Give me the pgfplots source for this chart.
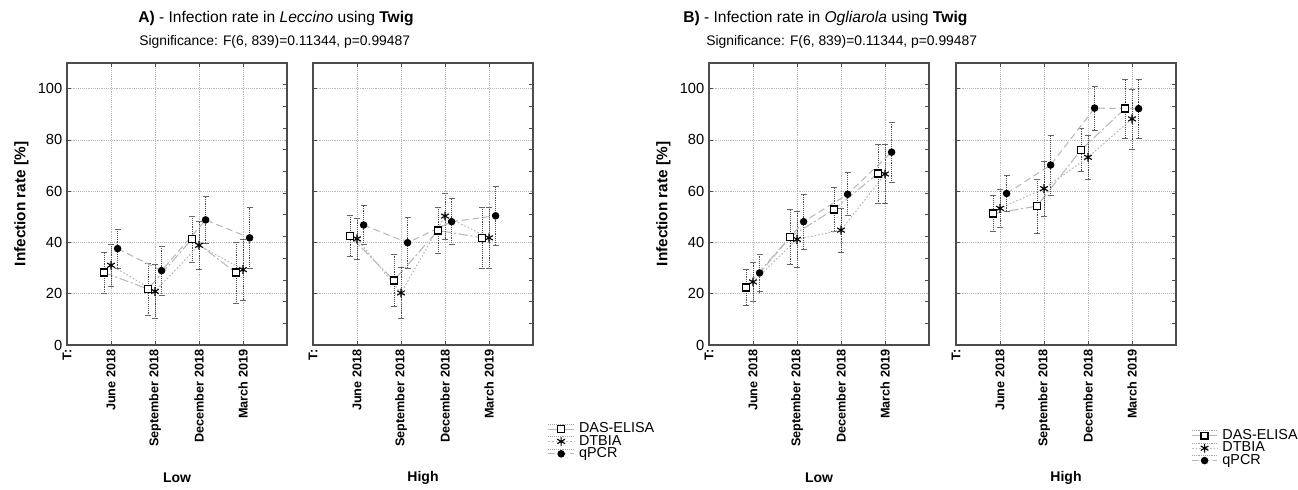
\documentclass[border=0pt]{standalone}
\usepackage{fontspec}
\setmainfont{Liberation Sans}
\usepackage{pgfplots}
\pgfplotsset{compat=1.18}

\pgfplotsset{
 panel/.style={
   scale only axis, width=165pt, height=211.5pt,
   xmin=0, xmax=5, ymin=0, ymax=110,
   xtick={0,1,2,3,4},
   xticklabels={T:, June 2018, September 2018, December 2018, March 2019},
   x tick label style={rotate=90, anchor=east, font=\bfseries\fontsize{9.5}{11}\selectfont},
   ytick={0,20,40,60,80,100},
   ytick pos=left,
   tick align=inside,
   major tick length=3pt,
   tick style={black!70, line width=0.6pt},
   xmajorgrids, ymajorgrids,
   grid style={densely dotted, gray!55, line width=0.5pt},
   axis line style={black!70, line width=1pt},
   y tick label style={font=\fontsize{11}{13}\selectfont},
   /pgf/number format/assume math mode=true,
   ylabel style={font=\bfseries\fontsize{11.5}{13}\selectfont},
   xlabel style={at={(rel axis cs:0.5,0)}, anchor=center, yshift=-99.75pt, font=\bfseries\fontsize{10.5}{12}\selectfont},
   clip=false,
 },
 rticks/.style={
   scale only axis, width=165pt, height=211.5pt,
   xmin=0, xmax=5, ymin=0, ymax=110,
   axis y line*=right, axis x line=none,
   ytick={8.4615,16.9231,25.3846,33.8462,42.3077,50.7692,59.2308,67.6923,76.1538,84.6154,93.0769,101.5385},
   yticklabels={},
   tick align=inside, major tick length=3pt,
   tick style={black!70, line width=0.6pt},
   axis line style={black!70, line width=1pt},
 },
 ebar/.style={
   /pgfplots/error bars/y dir=both,
   /pgfplots/error bars/y explicit,
   /pgfplots/error bars/error bar style={black!70, densely dotted, line width=0.65pt},
   /pgfplots/error bars/error mark options={rotate=90, black!60, mark size=2.2pt, line width=0.5pt, solid},
 },
 dasL/.style={gray!55, line width=0.8pt, dash pattern=on 7pt off 2pt on 1.5pt off 2pt, mark=square*, mark size=2.6pt, mark options={solid, fill=white, draw=black, line width=1.2pt}},
 dtbL/.style={gray!55, line width=0.8pt, dash pattern=on 1.2pt off 1.5pt, mark=asterisk, mark size=3.3pt, mark options={solid, draw=black, line width=0.85pt}},
 qpcL/.style={gray!55, line width=0.8pt, dash pattern=on 5pt off 3pt, mark=*, mark size=2.4pt, mark options={solid, fill=black, draw=black}},
 das/.style={dasL, ebar},
 dtb/.style={dtbL, ebar},
 qpc/.style={qpcL, ebar},
 mylegend/.style={
   legend style={draw=none, fill=none, inner sep=0pt, outer sep=0pt, font=\fontsize{10.8}{12}\selectfont,
     nodes={inner sep=0pt, text height=7.4pt, text depth=1.9pt, anchor=west},
     column sep=3.5pt, row sep=0pt},
   legend cell align=left,
   legend image code/.code={
     \draw[densely dotted, gray!70, line width=0.4pt] (0pt,3.8pt) -- (19pt,3.8pt);
     \draw[mark repeat=2, mark phase=2, ##1] plot coordinates {(0pt,0pt) (9.5pt,0pt) (19pt,0pt)};
   },
 },
}

\begin{document}
\begin{tikzpicture}
\path[use as bounding box] (0pt,0pt) rectangle (973.5pt,366.75pt);

% titles
\node[anchor=base west, inner sep=0pt] at (103.5pt,349.9pt) {\fontsize{11.7}{14}\selectfont\textbf{A)} - Infection rate in \textit{Leccino} using \textbf{Twig}};
\node[anchor=base west, inner sep=0pt] at (104.25pt,332.25pt) {\fontsize{10.4}{12}\selectfont Significance: F(6, 839)=0.11344, p=0.99487};
\node[anchor=base west, inner sep=0pt] at (512.25pt,349.9pt) {\fontsize{11.7}{14}\selectfont\textbf{B)} - Infection rate in \textit{Ogliarola} using \textbf{Twig}};
\node[anchor=base west, inner sep=0pt] at (529.5pt,332.25pt) {\fontsize{10.4}{12}\selectfont Significance: F(6, 839)=0.11344, p=0.99487};

% ---------- A Low ----------
\begin{axis}[panel, at={(50.25pt,108pt)}, anchor=south west, ylabel={Infection rate [\%]}, xlabel={Low}]
\addplot[das] coordinates {(0.84,28.3) +- (0,8) (1.84,21.8) +- (0,10.2) (2.84,41.3) +- (0,9) (3.84,28.2) +- (0,11.8)};
\addplot[dtb] coordinates {(1,31.1) +- (0,8.3) (2,20.9) +- (0,10.4) (3,38.9) +- (0,9.2) (4,29.4) +- (0,12)};
\addplot[qpc] coordinates {(1.15,37.6) +- (0,7.5) (2.15,29) +- (0,9.5) (3.15,48.8) +- (0,9.2) (4.15,41.8) +- (0,11.8)};
\end{axis}
\begin{axis}[rticks, at={(50.25pt,108pt)}, anchor=south west]
\end{axis}

% ---------- A High ----------
\begin{axis}[panel, at={(234.75pt,108pt)}, anchor=south west, yticklabels={}, xlabel={High}, mylegend,
  legend style={at={(rel axis cs:1.068,-0.276)}, anchor=north west}]
\addlegendimage{dasL}
\addlegendimage{dtbL}
\addlegendimage{qpcL}
\legend{DAS-ELISA, DTBIA, qPCR}
\addplot[das] coordinates {(0.84,42.5) +- (0,8) (1.84,25.2) +- (0,10) (2.84,44.7) +- (0,9) (3.84,41.8) +- (0,12)};
\addplot[dtb] coordinates {(1,41.4) +- (0,8) (2,20.3) +- (0,10) (3,50.3) +- (0,9) (4,41.8) +- (0,12)};
\addplot[qpc] coordinates {(1.15,46.8) +- (0,7.5) (2.15,39.9) +- (0,10) (3.15,48.1) +- (0,9) (4.15,50.4) +- (0,11.6)};
\end{axis}
\begin{axis}[rticks, at={(234.75pt,108pt)}, anchor=south west]
\end{axis}

% ---------- B Low ----------
\begin{axis}[panel, at={(531.75pt,108pt)}, anchor=south west, ylabel={Infection rate [\%]}, xlabel={Low}]
\addplot[das] coordinates {(0.84,22.5) +- (0,7) (1.84,42.1) +- (0,10.8) (2.84,52.9) +- (0,8.5) (3.84,66.9) +- (0,11.5)};
\addplot[dtb] coordinates {(1,24.6) +- (0,7.5) (2,41.2) +- (0,11) (3,44.8) +- (0,8.5) (4,66.7) +- (0,11.5)};
\addplot[qpc] coordinates {(1.15,28.1) +- (0,7.3) (2.15,48.1) +- (0,10.7) (3.15,58.8) +- (0,8.4) (4.15,75.2) +- (0,11.7)};
\end{axis}
\begin{axis}[rticks, at={(531.75pt,108pt)}, anchor=south west]
\end{axis}

% ---------- B High ----------
\begin{axis}[panel, at={(717pt,108pt)}, anchor=south west, yticklabels={}, xlabel={High}, mylegend,
  legend style={at={(rel axis cs:1.07,-0.30)}, anchor=north west}]
\addlegendimage{dasL}
\addlegendimage{dtbL}
\addlegendimage{qpcL}
\legend{DAS-ELISA, DTBIA, qPCR}
\addplot[das] coordinates {(0.84,51.2) +- (0,7) (1.84,54.2) +- (0,10.5) (2.84,76.1) +- (0,8.5) (3.84,92.2) +- (0,11.6)};
\addplot[dtb] coordinates {(1,53.3) +- (0,7.4) (2,61) +- (0,10.8) (3,73.2) +- (0,8.5) (4,88.2) +- (0,11.7)};
\addplot[qpc] coordinates {(1.15,59.1) +- (0,7) (2.15,70.2) +- (0,11.7) (3.15,92.4) +- (0,8.6) (4.15,92.2) +- (0,11.6)};
\end{axis}
\begin{axis}[rticks, at={(717pt,108pt)}, anchor=south west]
\end{axis}
\end{tikzpicture}
\end{document}
